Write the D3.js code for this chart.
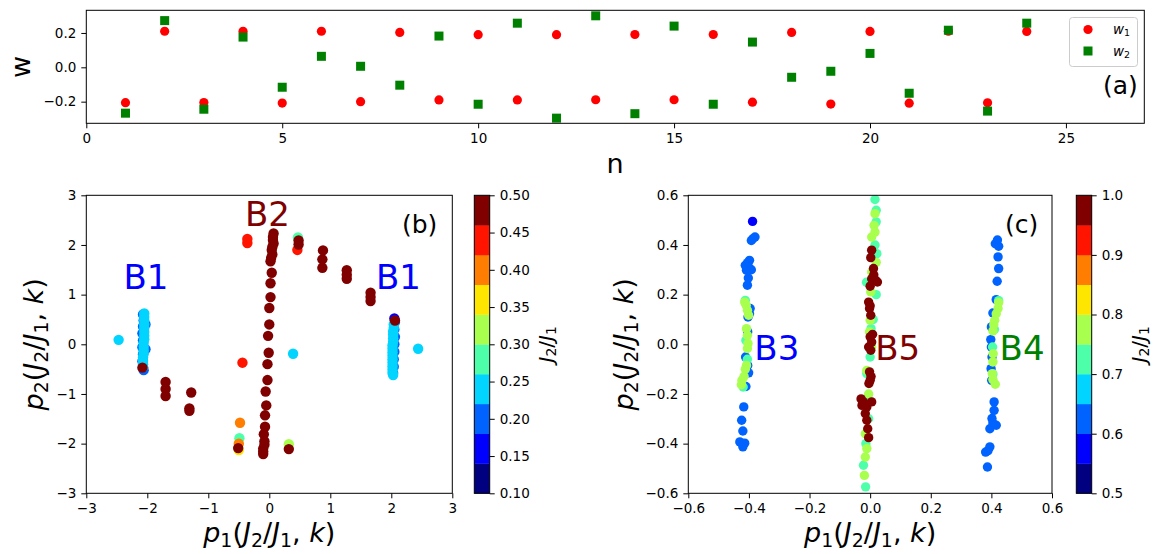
<!DOCTYPE html>
<html><head><meta charset="utf-8">
<script src="https://cdn.jsdelivr.net/npm/d3@7"></script>
<style>body{margin:0;background:#fff}svg{font-family:"DejaVu Sans",sans-serif}text{white-space:pre}</style>
</head><body><svg id="chart" width="1170" height="554"></svg>
<script>
// ---------------- DATA ----------------
// Panel (a)
const nVals = [1,2,3,4,5,6,7,8,9,10,11,12,13,14,15,16,17,18,19,20,21,22,23,24];
const w1 = [-0.206,0.210,-0.205,0.210,-0.208,0.210,-0.200,0.203,-0.190,0.190,-0.190,0.190,-0.189,0.191,-0.189,0.191,-0.203,0.203,-0.214,0.209,-0.209,0.210,-0.207,0.209];
const w2 = [-0.267,0.272,-0.244,0.176,-0.116,0.064,0.006,-0.104,0.182,-0.215,0.257,-0.296,0.300,-0.270,0.240,-0.215,0.147,-0.058,-0.023,0.081,-0.151,0.216,-0.255,0.257];
const aXTicks = [0,5,10,15,20,25];
const aYTicks = [-0.2,0.0,0.2];

// Panel (b): [p1, p2, J2/J1]
const bB1Left = [
  [-2.07,0.60,0.20],[-2.06,0.48,0.20],[-2.07,0.36,0.20],[-2.08,0.22,0.20],[-2.07,0.08,0.20],[-2.08,-0.06,0.20],
  [-2.07,-0.20,0.20],[-2.08,-0.34,0.20],[-2.07,-0.46,0.20],[-2.06,-0.52,0.20],[-2.03,0.40,0.20],[-2.03,-0.10,0.20],
  [-2.05,0.62,0.24],[-2.05,0.55,0.24],[-2.05,0.48,0.24],[-2.05,0.40,0.24],[-2.05,0.33,0.24],[-2.05,0.25,0.24],
  [-2.05,0.17,0.24],[-2.05,0.10,0.24],[-2.06,0.03,0.24],[-2.06,-0.05,0.24],[-2.06,-0.12,0.24],[-2.06,-0.19,0.24],
  [-2.07,-0.26,0.24],[-2.07,-0.33,0.24],[-2.07,-0.40,0.24],[-2.07,-0.46,0.24],
  [-2.08,-0.47,0.48],[-2.47,0.09,0.24]
];
const bB1Right = [
  [2.05,0.52,0.16],[2.06,0.45,0.20],[2.05,0.30,0.20],[2.06,0.15,0.20],[2.05,0.00,0.20],[2.05,-0.15,0.20],
  [2.04,-0.30,0.20],[2.04,-0.45,0.20],[2.03,-0.58,0.20],
  [2.04,0.40,0.24],[2.04,0.33,0.24],[2.03,0.26,0.24],[2.03,0.19,0.24],[2.03,0.12,0.24],[2.03,0.05,0.24],
  [2.02,-0.02,0.24],[2.02,-0.09,0.24],[2.02,-0.16,0.24],[2.02,-0.23,0.24],[2.02,-0.30,0.24],[2.02,-0.37,0.24],
  [2.02,-0.44,0.24],[2.02,-0.51,0.24],[2.02,-0.58,0.24],[2.03,-0.62,0.24],
  [2.06,0.48,0.48],[2.44,-0.09,0.24]
];
const bB2 = [
  [0.07,2.23,0.48],[0.06,2.16,0.48],[0.06,2.10,0.48],[0.07,2.03,0.48],[0.05,1.96,0.48],[0.04,1.90,0.48],
  [0.05,1.81,0.48],[0.03,1.74,0.48],[0.02,1.67,0.48],[0.04,1.44,0.48],[0.02,1.23,0.48],[0.02,0.95,0.48],
  [0.00,0.73,0.48],[0.00,0.40,0.48],[-0.02,0.17,0.48],[-0.01,-0.17,0.48],[-0.03,-0.40,0.48],[-0.03,-0.72,0.48],
  [-0.06,-0.95,0.48],[-0.05,-1.23,0.48],[-0.07,-1.43,0.48],[-0.07,-1.66,0.48],[-0.09,-1.81,0.48],[-0.08,-1.95,0.48],
  [-0.08,-2.02,0.48],[-0.10,-2.10,0.48],[-0.10,-2.16,0.48],[-0.10,-2.21,0.48]
];
const bArcs = [
  [-1.70,-0.76,0.48],[-1.70,-0.90,0.48],[-1.70,-1.04,0.48],[-1.28,-0.97,0.48],[-1.31,-1.29,0.48],[-1.31,-1.34,0.48],
  [0.47,2.15,0.28],[0.46,1.90,0.44],[0.48,2.09,0.48],[0.48,2.01,0.48],[0.88,1.89,0.48],[0.87,1.71,0.48],[0.87,1.54,0.48],
  [1.27,1.49,0.48],[1.27,1.40,0.48],[1.27,1.32,0.48],[1.66,1.04,0.48],[1.66,0.95,0.48],[1.66,0.87,0.48]
];
const bMisc = [
  [-0.36,2.12,0.44],[-0.36,2.04,0.44],[-0.44,-0.37,0.44],[0.39,-0.19,0.24],[-0.48,-1.58,0.40],
  [-0.50,-2.13,0.36],[-0.49,-1.89,0.28],[-0.50,-2.00,0.40],[-0.51,-2.09,0.48],[0.32,-2.01,0.32],[0.32,-2.11,0.48]
];
const bTicks = [-3,-2,-1,0,1,2,3];
const bCbarTicks = [0.10,0.15,0.20,0.25,0.30,0.35,0.40,0.45,0.50];

// Panel (c): [p1, p2, J2/J1]
const cB3 = [
  [-0.388,0.495,0.57],
  [-0.380,0.432,0.62],[-0.387,0.425,0.62],[-0.392,0.418,0.62],[-0.398,0.338,0.62],[-0.405,0.328,0.62],[-0.412,0.318,0.62],
  [-0.400,0.309,0.62],[-0.408,0.298,0.62],[-0.392,0.300,0.62],[-0.402,0.267,0.62],[-0.405,0.238,0.62],
  [-0.396,0.144,0.62],[-0.398,0.123,0.62],[-0.403,0.110,0.62],[-0.404,0.050,0.62],[-0.411,-0.051,0.62],
  [-0.404,-0.085,0.62],[-0.401,-0.115,0.62],[-0.410,-0.170,0.62],[-0.417,-0.252,0.62],[-0.424,-0.306,0.62],
  [-0.420,-0.349,0.62],[-0.430,-0.393,0.62],[-0.414,-0.398,0.62],[-0.420,-0.413,0.62],
  [-0.412,0.177,0.72],[-0.410,0.016,0.72],[-0.419,-0.172,0.72],[-0.405,-0.060,0.72],
  [-0.414,0.170,0.77],[-0.409,0.157,0.77],[-0.405,0.137,0.77],[-0.401,0.117,0.77],[-0.408,0.063,0.77],
  [-0.405,0.036,0.77],[-0.403,0.003,0.77],[-0.405,-0.017,0.77],[-0.408,-0.085,0.77],[-0.412,-0.100,0.77],
  [-0.416,-0.129,0.77],[-0.423,-0.145,0.77],[-0.425,-0.163,0.77]
];
const cB4 = [
  [0.420,0.420,0.62],[0.424,0.395,0.62],[0.413,0.405,0.62],[0.422,0.352,0.62],[0.424,0.305,0.62],[0.419,0.254,0.62],
  [0.416,0.180,0.62],[0.405,0.126,0.62],[0.400,0.070,0.62],[0.398,0.019,0.62],[0.400,-0.011,0.62],[0.402,-0.051,0.62],
  [0.399,-0.098,0.62],[0.401,-0.145,0.62],[0.409,-0.232,0.62],[0.409,-0.266,0.62],[0.402,-0.299,0.62],[0.405,-0.317,0.62],
  [0.416,-0.326,0.62],[0.395,-0.340,0.62],[0.395,-0.413,0.62],[0.389,-0.428,0.62],[0.381,-0.434,0.62],[0.387,-0.494,0.62],
  [0.424,0.176,0.72],[0.404,-0.011,0.72],[0.410,0.060,0.72],[0.405,-0.120,0.72],
  [0.424,0.168,0.77],[0.422,0.144,0.77],[0.416,0.123,0.77],[0.411,0.097,0.77],[0.408,0.079,0.77],[0.405,0.054,0.77],
  [0.406,-0.038,0.77],[0.405,-0.071,0.77],[0.403,-0.118,0.77],[0.405,-0.142,0.77],[0.413,-0.161,0.77]
];
const cB5 = [
  [0.016,0.583,0.72],[0.020,0.540,0.72],[0.020,0.493,0.72],[0.016,0.400,0.72],[0.022,0.365,0.72],[0.003,0.063,0.72],
  [0.000,-0.051,0.72],[-0.011,-0.118,0.72],[-0.008,-0.212,0.72],[-0.014,-0.400,0.72],[-0.022,-0.487,0.72],[-0.015,-0.574,0.72],
  [-0.012,0.250,0.72],[0.020,0.200,0.72],[-0.005,-0.300,0.72],[0.010,0.100,0.72],
  [0.016,0.526,0.77],[0.013,0.479,0.77],[0.016,0.452,0.77],[0.005,0.432,0.77],[0.005,0.291,0.77],[0.002,0.211,0.77],
  [0.000,0.097,0.77],[-0.002,0.050,0.77],[0.005,-0.011,0.77],[-0.011,-0.105,0.77],[-0.016,-0.360,0.77],[-0.011,-0.420,0.77],
  [-0.016,-0.454,0.77],[-0.019,-0.528,0.77],[0.020,0.330,0.77],[-0.005,-0.200,0.77],
  [0.005,0.379,0.97],[0.002,0.349,0.97],[0.011,0.305,0.97],[0.005,0.264,0.97],[0.018,0.258,0.97],[0.000,0.234,0.97],
  [0.024,0.251,0.97],[0.012,0.280,0.97],[-0.005,0.170,0.97],[-0.002,0.144,0.97],[0.002,0.117,0.97],[0.000,0.155,0.97],
  [0.000,0.030,0.97],[0.005,0.009,0.97],[-0.005,-0.011,0.97],[0.002,-0.024,0.97],[0.008,0.040,0.97],[-0.002,-0.111,0.97],
  [0.000,-0.145,0.97],[-0.004,-0.158,0.97],[0.003,-0.130,0.97],[-0.022,-0.232,0.97],[-0.011,-0.252,0.97],[-0.027,-0.246,0.97],
  [-0.016,-0.279,0.97],[0.005,-0.232,0.97],[-0.011,-0.306,0.97],[-0.008,-0.340,0.97],[-0.005,-0.376,0.97],[-0.030,-0.220,0.97]
];
const cTicks = [-0.6,-0.4,-0.2,0.0,0.2,0.4,0.6];
const cCbarTicks = [0.5,0.6,0.7,0.8,0.9,1.0];

// ---------------- HELPERS ----------------
const svg = d3.select('#chart');
const FT = 13.5;
// matplotlib "jet" segment data
const jetSeg = {
  r: [[0,0],[0.35,0],[0.66,1],[0.89,1],[1,0.5]],
  g: [[0,0],[0.125,0],[0.375,1],[0.64,1],[0.91,0],[1,0]],
  b: [[0,0.5],[0.11,1],[0.34,1],[0.65,0],[1,0]]
};
function seg(s, x){ for(let i=1;i<s.length;i++){ if(x<=s[i][0]){ const [x0,y0]=s[i-1],[x1,y1]=s[i]; return y0+(y1-y0)*(x-x0)/(x1-x0);} } return s[s.length-1][1]; }
function jet(x){ return d3.rgb(255*seg(jetSeg.r,x),255*seg(jetSeg.g,x),255*seg(jetSeg.b,x)).formatHex(); }
const jet10 = d3.range(10).map(i => jet(i/9));
function cmap(v, vmin, vmax){ let i = Math.floor((v-vmin)/(vmax-vmin)*10); i = Math.max(0, Math.min(9, i)); return jet10[i]; }

function styleAxis(g){
  g.select('.domain').remove();
  g.selectAll('line').attr('stroke','#000').attr('stroke-width',1);
  g.selectAll('text').attr('font-size',FT).attr('fill','#000').attr('font-family','DejaVu Sans');
}
function frame(x0,y0,x1,y1){
  svg.append('rect').attr('x',x0).attr('y',y0).attr('width',x1-x0).attr('height',y1-y0)
    .attr('fill','none').attr('stroke','#000').attr('stroke-width',1);
}
function mathText(el, parts, fs){
  let prevSub = false;
  parts.forEach(p => {
    const t = el.append('tspan').text(p.t);
    if (p.i) t.attr('font-style','italic');
    if (p.sub){ t.attr('font-size', fs*0.7); if(!prevSub) t.attr('dy', fs*0.17); }
    else if (prevSub) t.attr('dy', -fs*0.17);
    prevSub = !!p.sub;
  });
}
const labP1 = [{t:'p',i:1},{t:'1',sub:1},{t:'('},{t:'J',i:1},{t:'2',sub:1},{t:'/'},{t:'J',i:1},{t:'1',sub:1},{t:', '},{t:'k',i:1},{t:')'}];
const labP2 = [{t:'p',i:1},{t:'2',sub:1},{t:'('},{t:'J',i:1},{t:'2',sub:1},{t:'/'},{t:'J',i:1},{t:'1',sub:1},{t:', '},{t:'k',i:1},{t:')'}];
const labJ = [{t:'J',i:1},{t:'2',sub:1},{t:'/'},{t:'J',i:1},{t:'1',sub:1}];

// ---------------- PANEL (a) ----------------
const aL=86.3, aR=1144.3, aT=10.3, aB=123.3;
const ax = d3.scaleLinear().domain([0,27]).range([aL,aR]);
const ay = d3.scaleLinear().domain([-0.326,0.332]).range([aB,aT]);
svg.append('g').attr('transform',`translate(0,${aB})`)
  .call(d3.axisBottom(ax).tickValues(aXTicks).tickSize(5).tickPadding(5).tickFormat(d3.format('d'))).call(styleAxis);
svg.append('g').attr('transform',`translate(${aL},0)`)
  .call(d3.axisLeft(ay).tickValues(aYTicks).tickSize(5).tickPadding(5).tickFormat(d3.format('.1f'))).call(styleAxis);
const ga = svg.append('g');
ga.selectAll('circle').data(nVals).join('circle')
  .attr('cx',(d,i)=>ax(d)).attr('cy',(d,i)=>ay(w1[i])).attr('r',4.6).attr('fill','#ff0000');
ga.selectAll('rect').data(nVals).join('rect')
  .attr('x',(d,i)=>ax(d)-4.5).attr('y',(d,i)=>ay(w2[i])-4.5).attr('width',9).attr('height',9).attr('fill','#008000');
frame(aL,aT,aR,aB);
// legend
svg.append('rect').attr('x',1069.5).attr('y',17.5).attr('width',68).attr('height',49).attr('rx',3)
  .attr('fill','#fff').attr('fill-opacity',0.8).attr('stroke','#cccccc');
svg.append('circle').attr('cx',1088).attr('cy',29.5).attr('r',4.6).attr('fill','#ff0000');
svg.append('rect').attr('x',1083.5).attr('y',46.5).attr('width',9).attr('height',9).attr('fill','#008000');
mathText(svg.append('text').attr('x',1113).attr('y',33.5).attr('font-size',FT), [{t:'w',i:1},{t:'1',sub:1}], FT);
mathText(svg.append('text').attr('x',1113).attr('y',55.5).attr('font-size',FT), [{t:'w',i:1},{t:'2',sub:1}], FT);
svg.append('text').attr('x',1103).attr('y',93.5).attr('font-size',25).text('(a)');
svg.append('text').attr('transform','translate(30,67) rotate(-90)').attr('text-anchor','middle').attr('font-size',27).text('w');
svg.append('text').attr('x',615).attr('y',173).attr('text-anchor','middle').attr('font-size',27).text('n');

// ---------------- PANEL (b) ----------------
const bL=86.3, bR=452.3, bT=195.3, bBt=493.3;
const bx = d3.scaleLinear().domain([-3,3]).range([bL,bR]);
const by = d3.scaleLinear().domain([-3,3]).range([bBt,bT]);
svg.append('g').attr('transform',`translate(0,${bBt})`)
  .call(d3.axisBottom(bx).tickValues(bTicks).tickSize(5).tickPadding(5).tickFormat(d3.format('d'))).call(styleAxis);
svg.append('g').attr('transform',`translate(${bL},0)`)
  .call(d3.axisLeft(by).tickValues(bTicks).tickSize(5).tickPadding(5).tickFormat(d3.format('d'))).call(styleAxis);
svg.append('clipPath').attr('id','clipB').append('rect').attr('x',bL).attr('y',bT).attr('width',bR-bL).attr('height',bBt-bT);
const gb = svg.append('g').attr('clip-path','url(#clipB)');
const bAll = [].concat(bB1Left, bB1Right, bArcs, bMisc, bB2);
gb.selectAll('circle').data(bAll).join('circle')
  .attr('cx',d=>bx(d[0])).attr('cy',d=>by(d[1])).attr('r',5.2).attr('fill',d=>cmap(d[2],0.1,0.5));
frame(bL,bT,bR,bBt);
svg.append('text').attr('x',bx(-2.39)).attr('y',by(1.107)).attr('font-size',34).attr('fill','#0000ff').text('B1');
svg.append('text').attr('x',bx(1.75)).attr('y',by(1.12)).attr('font-size',34).attr('fill','#0000ff').text('B1');
svg.append('text').attr('x',bx(-0.40)).attr('y',by(2.38)).attr('font-size',34).attr('fill','#800000').text('B2');
svg.append('text').attr('x',402).attr('y',233).attr('font-size',25).text('(b)');
mathText(svg.append('text').attr('x',(bL+bR)/2).attr('y',542).attr('text-anchor','middle').attr('font-size',27), labP1, 27);
mathText(svg.append('text').attr('transform',`translate(43,${(bT+bBt)/2}) rotate(-90)`).attr('text-anchor','middle').attr('font-size',27), labP2, 27);

// colorbar
function colorbar(x0, x1, vmin, vmax, ticks, fmt, labelX){
  const cy = d3.scaleLinear().domain([vmin,vmax]).range([bBt,bT]);
  const step = (vmax-vmin)/10;
  svg.append('g').selectAll('rect').data(jet10).join('rect')
    .attr('x',x0).attr('width',x1-x0)
    .attr('y',(d,i)=>cy(vmin+(i+1)*step)).attr('height',(d,i)=>cy(vmin+i*step)-cy(vmin+(i+1)*step)+0.3)
    .attr('fill',d=>d);
  svg.append('g').attr('transform',`translate(${x1},0)`)
    .call(d3.axisRight(cy).tickValues(ticks).tickSize(5).tickPadding(5).tickFormat(d3.format(fmt))).call(styleAxis);
  frame(x0,bT,x1,bBt);
  mathText(svg.append('text').attr('transform',`translate(${labelX},${(bT+bBt)/2}) rotate(-90)`).attr('text-anchor','middle').attr('font-size',20), labJ, 20);
}
colorbar(474.3, 489.7, 0.1, 0.5, bCbarTicks, '.2f', 553);

// ---------------- PANEL (c) ----------------
const cL=688.3, cR=1052, cT=195.3, cBt=493.3;
const cx = d3.scaleLinear().domain([-0.6,0.6]).range([cL,cR]);
const cyS = d3.scaleLinear().domain([-0.6,0.6]).range([cBt,cT]);
svg.append('g').attr('transform',`translate(0,${cBt})`)
  .call(d3.axisBottom(cx).tickValues(cTicks).tickSize(5).tickPadding(5).tickFormat(d3.format('.1f'))).call(styleAxis);
svg.append('g').attr('transform',`translate(${cL},0)`)
  .call(d3.axisLeft(cyS).tickValues(cTicks).tickSize(5).tickPadding(5).tickFormat(d3.format('.1f'))).call(styleAxis);
svg.append('clipPath').attr('id','clipC').append('rect').attr('x',cL).attr('y',cT).attr('width',cR-cL).attr('height',cBt-cT);
const gc = svg.append('g').attr('clip-path','url(#clipC)');
const cAll = [].concat(cB3, cB4, cB5);
gc.selectAll('circle').data(cAll).join('circle')
  .attr('cx',d=>cx(d[0])).attr('cy',d=>cyS(d[1])).attr('r',4.7).attr('fill',d=>cmap(d[2],0.5,1.0));
frame(cL,cT,cR,cBt);
svg.append('text').attr('x',cx(-0.382)).attr('y',cyS(-0.064)).attr('font-size',34).attr('fill','#0000ff').text('B3');
svg.append('text').attr('x',cx(0.017)).attr('y',cyS(-0.064)).attr('font-size',34).attr('fill','#800000').text('B5');
svg.append('text').attr('x',cx(0.427)).attr('y',cyS(-0.064)).attr('font-size',34).attr('fill','#008000').text('B4');
svg.append('text').attr('x',1005).attr('y',233).attr('font-size',25).text('(c)');
mathText(svg.append('text').attr('x',(cL+cR)/2).attr('y',542).attr('text-anchor','middle').attr('font-size',27), labP1, 27);
mathText(svg.append('text').attr('transform',`translate(633,${(cT+cBt)/2}) rotate(-90)`).attr('text-anchor','middle').attr('font-size',27), labP2, 27);
colorbar(1076.3, 1091.7, 0.5, 1.0, cCbarTicks, '.1f', 1146);
</script></body></html>
